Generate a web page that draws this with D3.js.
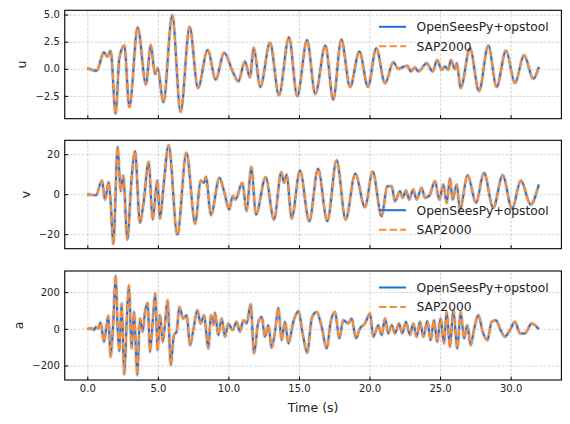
<!DOCTYPE html>
<html>
<head>
<meta charset="utf-8">
<script src="https://cdn.jsdelivr.net/npm/d3@7"></script>
<style>
  body { margin: 0; background: #fff; }
  text { font-family: "DejaVu Sans", sans-serif; }
</style>
</head>
<body>
<div id="chart"></div>
<script>
// response histories as [time (s), value];
// OpenSeesPy+opstool and SAP2000 coincide at this resolution, so one trace per response
var uData = [[0,0.05],[0.66,-0.18],[1.18,1.52],[1.42,1.13],[1.65,1.65],[2.01,-4.15],[2.27,0.98],[2.62,2.14],
  [2.98,-3.54],[3.57,3.81],[4.16,-1.46],[4.49,2.2],[4.80,-0.49],[4.98,0.06],[5.39,-3.08],[6.02,4.94],
  [6.61,-3.97],[7.25,3.87],[7.84,-1.77],[8.53,1.74],[9.10,-1.0],[9.69,1.49],[10.35,-0.4],[10.70,-1.16],
  [11.17,0.67],[11.53,-0.79],[11.79,1.95],[12.26,-1.68],[12.95,2.41],[13.58,-2.44],[14.29,2.9],[14.88,-2.53],
  [15.57,2.65],[16.16,-2.32],[16.87,2.14],[17.43,-2.84],[18.00,2.71],[18.62,-1.68],[19.28,1.59],[19.89,-1.65],
  [20.48,1.89],[21.10,-1.34],[21.69,0.61],[22.04,0],[22.28,0.12],[22.68,0.27],[22.94,-0.24],[23.22,0.12],
  [23.46,-0.24],[24.05,0.52],[24.47,-0.24],[24.80,0.82],[25.11,-0.09],[25.35,0.21],[25.58,-0.09],[25.77,0.82],
  [26.06,-0.03],[26.18,0.52],[26.46,-1.77],[27.12,1.89],[27.76,-2.07],[28.42,2.14],[29.01,-1.68],[29.67,1.68],
  [30.31,-1.31],[30.95,1.25],[31.61,-0.92],[32.0,0.18]];

var vData = [[0,0],[0.61,-0.5],[1.04,6.8],[1.25,-2.7],[1.51,6.0],[1.65,-3.5],[1.84,-24.8],[2.15,23.5],
  [2.36,1.5],[2.55,9.3],[2.83,-22.7],[3.14,8.2],[3.38,21.5],[3.73,-14.3],[3.97,-5.2],[4.35,16.2],
  [4.63,-12.7],[4.96,6.8],[5.15,-12.2],[5.39,3.2],[5.76,24.5],[6.38,-20.2],[7.02,20.7],[7.65,-14.7],
  [8.03,6.8],[8.27,5.7],[8.41,8.7],[8.76,-10.5],[9.36,8.2],[9.69,1.5],[10.06,-7.7],[10.30,-1],
  [10.49,-2.7],[10.99,5.7],[11.29,-8.5],[11.62,13.7],[11.95,-10.2],[12.64,8.5],[13.23,-12.7],[13.75,11],
  [13.94,5.7],[14.13,9.8],[14.48,-12.2],[15.07,11.8],[15.73,-13.5],[16.35,12.7],[17.01,-13.5],[17.67,17],
  [18.31,-12.7],[18.99,10.2],[19.68,-6.5],[20.22,11.3],[20.86,-11],[21.26,4],[21.57,4],[21.80,-3.5],
  [22.16,1.5],[22.35,-1.8],[22.58,1.8],[22.82,-2.7],[23.10,2.3],[23.34,-2.7],[23.69,3.2],[23.93,-1.8],
  [24.24,-0.8],[24.64,6.5],[24.95,-2.7],[25.23,4.8],[25.47,-4.3],[25.70,7.8],[25.89,-2.7],[26.18,4.8],
  [26.41,-7.7],[26.95,9.5],[27.55,-4.3],[28.11,10.7],[28.77,-6.8],[29.44,9.5],[30.10,-7.3],[30.73,6.8],
  [31.42,-5.2],[32.0,4.8]];

var aData = [[0,0],[0.31,2],[0.47,-7],[0.61,11],[0.78,2],[0.94,34],[1.18,-71],[1.37,20],[1.49,71],[1.65,-152],
  [1.84,38],[2.01,288],[2.15,2],[2.27,-121],[2.43,138],[2.62,-248],[2.79,38],[2.95,237],[3.14,-107],[3.31,92],
  [3.54,-252],[3.73,56],[3.92,-16],[4.09,92],[4.28,141],[4.44,-125],[4.63,38],[4.82,192],[4.98,-116],[5.15,74],
  [5.34,-71],[5.50,20],[5.69,156],[5.91,-197],[6.14,-34],[6.33,-16],[6.52,119],[6.80,56],[7.04,74],[7.28,-89],
  [7.51,-7],[7.80,101],[8.03,29],[8.27,74],[8.58,-107],[8.76,74],[8.93,20],[9.05,87],[9.28,-34],[9.52,56],
  [9.76,-43],[9.99,29],[10.30,-7],[10.58,38],[10.82,-16],[11.06,47],[11.29,29],[11.58,134],[11.81,-134],[12.12,38],
  [12.36,65],[12.59,-43],[12.83,20],[13.06,-103],[13.30,-16],[13.54,114],[13.77,-62],[14.01,38],[14.25,-80],[14.60,38],
  [14.96,96],[15.26,-25],[15.59,-130],[15.90,56],[16.25,92],[16.61,11],[16.96,-107],[17.25,38],[17.55,92],[17.86,-52],
  [18.14,47],[18.50,29],[18.73,56],[19.04,-52],[19.32,2],[19.68,29],[20.03,83],[20.27,-43],[20.62,20],[20.86,-34],
  [21.10,56],[21.33,-25],[21.57,20],[21.80,-25],[22.09,29],[22.32,-25],[22.58,38],[22.87,-34],[23.10,29],[23.34,-43],
  [23.58,38],[23.81,-43],[24.10,42],[24.33,-62],[24.57,47],[24.80,-71],[25.04,56],[25.28,-80],[25.47,92],[25.70,-98],
  [25.94,101],[26.22,-107],[26.46,92],[26.70,-52],[26.93,20],[27.17,-89],[27.40,-7],[27.71,74],[28.02,-16],[28.35,-62],
  [28.66,38],[28.96,47],[29.29,-7],[29.60,-43],[29.95,-7],[30.31,38],[30.67,-25],[31.02,-25],[31.49,29],[32.0,-2]];

var timeTicks = [0, 5, 10, 15, 20, 25, 30];
var uTicks = [-2.5, 0, 2.5, 5.0];
var vTicks = [-20, 0, 20];
var aTicks = [-200, 0, 200];
var seriesNames = ["OpenSeesPy+opstool", "SAP2000"];

var width = 570, height = 424;
var left = 64.75, right = 561.4;

var panels = [
    {label: "u", data: uData, ticks: uTicks, fmt: ".1f", top: 10.3, bottom: 118.7, legend: "upper"},
    {label: "v", data: vData, ticks: vTicks, fmt: "d", top: 140.3, bottom: 248.7, legend: "lower"},
    {label: "a", data: aData, ticks: aTicks, fmt: "d", top: 271, bottom: 380, legend: "upper"}
];

var svg = d3.select("#chart").append("svg")
    .attr("width", width)
    .attr("height", height);

// shared time scale, matplotlib-style 5% margins
var x = d3.scaleLinear().domain([-1.6, 33.6]).range([left, right]);

var minus = function(s) { return s.replace("-", "\u2212"); };

panels.forEach(function(p, i) {
    var ext = d3.extent(p.data, function(d) { return d[1]; });
    var pad = (ext[1] - ext[0]) * 0.05;
    var y = d3.scaleLinear().domain([ext[0] - pad, ext[1] + pad]).range([p.bottom, p.top]);
    var g = svg.append("g");

    // gridlines
    g.append("g")
        .attr("transform", "translate(0," + p.bottom + ")")
        .call(d3.axisBottom(x).tickValues(timeTicks).tickSize(-(p.bottom - p.top)).tickFormat(""))
        .call(function(s) { s.select(".domain").remove(); })
        .selectAll("line")
        .attr("stroke", "#c4c4c4").attr("stroke-width", 0.7).attr("stroke-dasharray", "2.8,1.4");
    g.append("g")
        .attr("transform", "translate(" + left + ",0)")
        .call(d3.axisLeft(y).tickValues(p.ticks).tickSize(-(right - left)).tickFormat(""))
        .call(function(s) { s.select(".domain").remove(); })
        .selectAll("line")
        .attr("stroke", "#c4c4c4").attr("stroke-width", 0.7).attr("stroke-dasharray", "2.8,1.4");

    var line = d3.line()
        .x(function(d) { return x(d[0]); })
        .y(function(d) { return y(d[1]); })
        .curve(d3.curveMonotoneX);

    g.append("path")
        .datum(p.data)
        .attr("fill", "none")
        .attr("stroke", "#9aa3b0")
        .attr("stroke-opacity", 0.35)
        .attr("stroke-width", 3.8)
        .attr("d", line);
    g.append("path")
        .datum(p.data)
        .attr("fill", "none")
        .attr("stroke", "#1c6fdc")
        .attr("stroke-width", 2)
        .attr("d", line);
    g.append("path")
        .datum(p.data)
        .attr("fill", "none")
        .attr("stroke", "#ff8c2e")
        .attr("stroke-width", 2)
        .attr("stroke-dasharray", "7.4,3.2")
        .attr("d", line);

    // axes with inward ticks
    var yAxis = g.append("g")
        .attr("transform", "translate(" + left + ",0)")
        .call(d3.axisLeft(y).tickValues(p.ticks).tickSizeInner(-3.5).tickSizeOuter(0).tickPadding(5)
              .tickFormat(function(d) { return minus(d3.format(p.fmt)(d)); }));
    yAxis.select(".domain").remove();
    yAxis.selectAll("text").attr("font-size", 10).attr("fill", "#222");
    yAxis.selectAll("line").attr("stroke", "#000");

    var xAxis = g.append("g")
        .attr("transform", "translate(0," + p.bottom + ")")
        .call(d3.axisBottom(x).tickValues(timeTicks).tickSizeInner(-3.5).tickSizeOuter(0).tickPadding(5)
              .tickFormat(i == 2 ? d3.format(".1f") : ""));
    xAxis.select(".domain").remove();
    xAxis.selectAll("text").attr("font-size", 10).attr("fill", "#222");
    xAxis.selectAll("line").attr("stroke", "#000");

    g.append("rect")
        .attr("x", left).attr("y", p.top)
        .attr("width", right - left).attr("height", p.bottom - p.top)
        .attr("fill", "none").attr("stroke", "#000").attr("stroke-width", 1.1);

    // y label just left of the tick labels
    var bb = yAxis.node().getBBox();
    g.append("text")
        .attr("transform", "translate(" + (left + bb.x - 9) + "," + ((p.top + p.bottom) / 2) + ") rotate(-90)")
        .attr("text-anchor", "middle")
        .attr("font-size", 12.5)
        .attr("fill", "#222")
        .text(p.label);

    // legend, no frame
    var y0 = p.legend == "upper" ? p.top + 16.5 : p.bottom - 38.5;
    seriesNames.forEach(function(name, j) {
        var ly = y0 + j * 19.5;
        g.append("line")
            .attr("x1", 379).attr("x2", 406)
            .attr("y1", ly).attr("y2", ly)
            .attr("stroke", j == 0 ? "#1c6fdc" : "#ff8c2e")
            .attr("stroke-width", 2)
            .attr("stroke-dasharray", j == 0 ? null : "7.4,3.2");
        g.append("text")
            .attr("x", 416.5).attr("y", ly)
            .attr("dy", "0.36em")
            .attr("font-size", 12.3)
            .attr("fill", "#222")
            .text(name);
    });
});

svg.append("text")
    .attr("x", (left + right) / 2)
    .attr("y", 412)
    .attr("text-anchor", "middle")
    .attr("font-size", 12.5)
    .attr("fill", "#222")
    .text("Time (s)");
</script>
</body>
</html>
